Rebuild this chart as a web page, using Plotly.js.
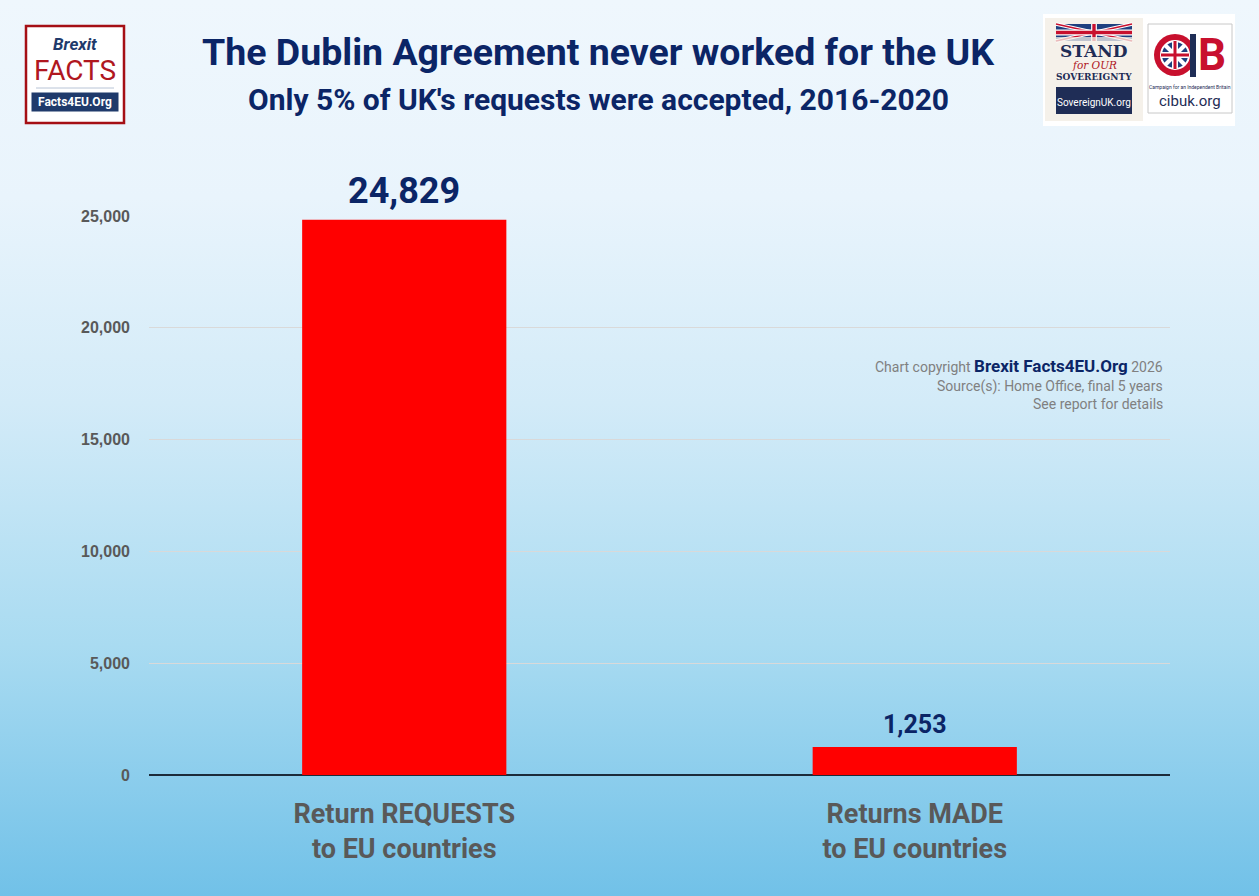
<!DOCTYPE html>
<html>
<head>
<meta charset="utf-8">
<script src="https://cdn.plot.ly/plotly-3.0.1.min.js"></script>
<style>
  html, body { margin:0; padding:0; width:1259px; height:896px; overflow:hidden; }
  body { background: linear-gradient(to bottom, #eff7fd 0%, #e9f4fc 22%, #d3ebf8 45%, #a9dbf1 72%, #71c1e8 100%); }
  #chart { width:1259px; height:896px; }
</style>
</head>
<body>
<div id="chart"></div>
<script>
// ---- Data ----
const categories = ["Return REQUESTS<br>to EU countries", "Returns MADE<br>to EU countries"];
const values = [24829, 1253];
const valueLabels = ["24,829", "1,253"];
const titleText = "The Dublin Agreement never worked for the UK";
const subtitleText = "Only 5% of UK's requests were accepted, 2016-2020";

// ---- Pixel -> paper helpers (plot area 149..1170 x, 216..775 y) ----
const L = 149, R = 1170, T = 216, B = 775;
const X = px => (px - L) / (R - L);
const Y = py => (B - py) / (B - T);

const shapes = [];
const annotations = [];

function rect(x0, y0, x1, y1, fill, lineColor, lineWidth) {
  shapes.push({type:'rect', xref:'paper', yref:'paper', x0:X(x0), x1:X(x1), y0:Y(y1), y1:Y(y0),
    fillcolor: fill, line:{color: lineColor || fill, width: lineWidth === undefined ? 0 : lineWidth}});
}
function line(x0, y0, x1, y1, color, width) {
  shapes.push({type:'line', xref:'paper', yref:'paper', x0:X(x0), x1:X(x1), y0:Y(y0), y1:Y(y1),
    line:{color: color, width: width}});
}
function circle(cx, cy, r, fill, lineColor, lw) {
  shapes.push({type:'circle', xref:'paper', yref:'paper', x0:X(cx-r), x1:X(cx+r), y0:Y(cy+r), y1:Y(cy-r),
    fillcolor: fill, line:{color: lineColor || fill, width: lw || 0}});
}
function text(px, py, t, size, color, family, opts) {
  annotations.push(Object.assign({xref:'paper', yref:'paper', x:X(px), y:Y(py), text:t, showarrow:false,
    xanchor:'center', yanchor:'middle', font:{size:size, color:color, family:family}}, opts || {}));
}
function unionJack(x0, y0, x1, y1) {
  rect(x0, y0, x1, y1, '#1f3f7f');
  const h = y1 - y0;
  line(x0, y0, x1, y1, '#ffffff', h*0.22);
  line(x0, y1, x1, y0, '#ffffff', h*0.22);
  line(x0, y0, x1, y1, '#c8102e', h*0.08);
  line(x0, y1, x1, y0, '#c8102e', h*0.08);
  const cx = (x0 + x1)/2, cy = (y0 + y1)/2;
  rect(cx - h*0.17, y0, cx + h*0.17, y1, '#ffffff');
  rect(x0, cy - h*0.17, x1, cy + h*0.17, '#ffffff');
  rect(cx - h*0.1, y0, cx + h*0.1, y1, '#c8102e');
  rect(x0, cy - h*0.1, x1, cy + h*0.1, '#c8102e');
}

// ---- Left logo: Brexit FACTS ----
rect(26, 26, 124, 123, '#ffffff', '#a50f15', 2.5);
text(75, 44, '<i><b>Brexit</b></i>', 17, '#1f3a6b', 'Roboto');
text(75, 70, 'FACTS', 28, '#b0171f', 'Roboto');
line(36, 88, 114, 88, '#b8c4d6', 1);
text(75, 102, '<b>Facts4EU.Org</b>', 12, '#ffffff', 'Roboto',
  {bgcolor:'#1f3a6b', borderpad:2, width:82});

// ---- Right logos panel ----
rect(1043, 14, 1235, 126, '#ffffff');
// Stand for our sovereignty
rect(1045, 18, 1143, 121, '#f5f1ea');
unionJack(1056, 24, 1132, 41);
rect(1056, 37, 1132, 42, 'rgba(245,241,234,0.75)');
text(1094, 51, '<b>STAND</b>', 17, '#1f2d56', 'DejaVu Serif');
text(1094, 65, '<i>for OUR</i>', 10.5, '#b0171f', 'DejaVu Serif');
text(1094, 77, '<b>SOVEREIGNTY</b>', 9, '#1f2d56', 'DejaVu Serif');
rect(1056, 87, 1132, 114, '#1f2d56');
text(1094, 103, 'SovereignUK.org', 10, '#ffffff', 'Roboto');
// CIB
rect(1148, 24, 1232, 113, '#ffffff', '#c8c8c8', 1);
circle(1175, 55, 21, '#c8102e');
circle(1175, 55, 14, '#1f3f7f', '#ffffff', 2);
line(1165, 45, 1185, 65, '#ffffff', 4);
line(1165, 65, 1185, 45, '#ffffff', 4);
rect(1172, 41, 1178, 69, '#ffffff');
rect(1161, 52, 1189, 58, '#ffffff');
rect(1173.5, 41, 1176.5, 69, '#c8102e');
rect(1161, 53.5, 1189, 56.5, '#c8102e');
rect(1190, 34, 1196, 77, '#1f2d56');
text(1212, 55, '<b>B</b>', 44, '#c8102e', 'Roboto');
text(1190, 87, 'Campaign for an Independent Britain', 5, '#1f2d56', 'Roboto');
text(1190, 101, 'cibuk.org', 15, '#1f2d56', 'Roboto');

// ---- Subtitle ----
text(598, 99, '<b>' + subtitleText + '</b>', 30, '#0b2566', 'Roboto');

// ---- Copyright ----
text(1165, 366, 'Chart copyright <span style="font-size:17px;color:#0b2566"><b>Brexit Facts4EU.Org</b></span> 2026',
  14, '#808080', 'Roboto', {xanchor:'right'});
text(1165, 386, 'Source(s): Home Office, final 5 years', 14, '#808080', 'Roboto', {xanchor:'right'});
text(1165, 404, 'See report for details', 14, '#808080', 'Roboto', {xanchor:'right'});

// ---- Value labels (data-anchored) ----
const labelSizes = [36, 25];
categories.forEach((c, i) => {
  annotations.push({xref:'x', yref:'y', x:c, y:values[i], text:'<b>' + valueLabels[i] + '</b>',
    showarrow:false, xanchor:'center', yanchor:'bottom', yshift:6,
    font:{size:labelSizes[i], color:'#0b2566', family:'Roboto'}});
});

const trace = {
  type:'bar', x:categories, y:values,
  marker:{color:'#ff0000'}, hoverinfo:'none', cliponaxis:false
};

const layout = {
  width:1259, height:896,
  margin:{l:L, r:1259-R, t:T, b:896-B},
  paper_bgcolor:'rgba(0,0,0,0)', plot_bgcolor:'rgba(0,0,0,0)',
  bargap:0.6, showlegend:false,
  title:{text:'<b>' + titleText + '</b>', x:598/1259, xanchor:'center', y:1-52/896, yanchor:'middle',
    font:{size:37.5, color:'#0b2566', family:'Roboto'}},
  xaxis:{type:'category', showgrid:false, showline:false, zeroline:false, ticks:'',
    tickfont:{size:27, color:'#595959', family:'Roboto', weight:'bold'}, ticklabelstandoff:20, fixedrange:true},
  yaxis:{range:[0, 25000], dtick:5000, tickformat:',', showgrid:true, gridcolor:'#d9d9d9', gridwidth:1,
    zeroline:true, zerolinecolor:'#1c2b3a', zerolinewidth:1.5, showline:false, ticks:'',
    tickfont:{size:16, color:'#595959', family:'Liberation Sans', weight:'bold'}, ticklabelstandoff:18, fixedrange:true},
  shapes:shapes, annotations:annotations
};

Plotly.newPlot('chart', [trace], layout, {displayModeBar:false, staticPlot:true});
</script>
</body>
</html>
